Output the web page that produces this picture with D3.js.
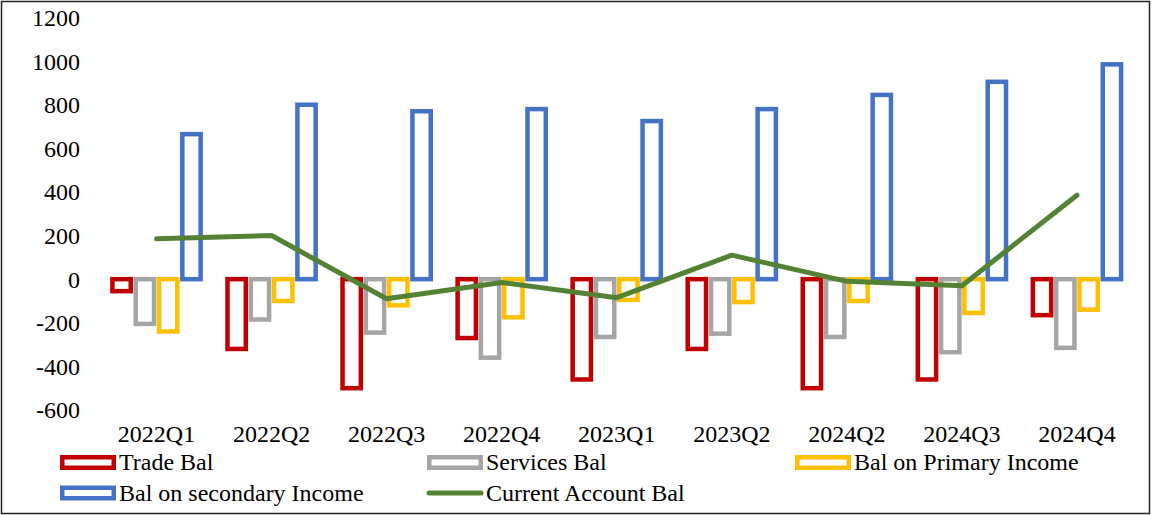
<!DOCTYPE html>
<html>
<head>
<meta charset="utf-8">
<script src="https://cdn.jsdelivr.net/npm/d3@7"></script>
<style>
  body { margin: 0; background: #fff; }
  text { font-family: "Liberation Serif", "Times New Roman", serif; fill: #000; }
</style>
</head>
<body>
<div id="chart"></div>
<script>
// data
const quarters = ["2022Q1", "2022Q2", "2022Q3", "2022Q4", "2023Q1", "2023Q2", "2024Q2", "2024Q3", "2024Q4"];
const tradeBal = [-55, -320, -500, -270, -460, -320, -500, -460, -165];
const servicesBal = [-205, -185, -245, -360, -265, -250, -265, -335, -315];
const primaryBal = [-240, -100, -120, -175, -95, -105, -100, -155, -140];
const secondaryBal = [665, 800, 770, 780, 725, 780, 845, 905, 985];
const currentBal = [185, 200, -90, -15, -85, 110, -10, -30, 385];
const yTicks = [-600, -400, -200, 0, 200, 400, 600, 800, 1000, 1200];

const barSeries = [
  { name: "Trade Bal", values: tradeBal, color: "#C00000" },
  { name: "Services Bal", values: servicesBal, color: "#A5A5A5" },
  { name: "Bal on Primary Income", values: primaryBal, color: "#FFC000" },
  { name: "Bal on secondary Income", values: secondaryBal, color: "#4472C4" }
];
const lineColor = "#548235";

// layout
let svgWidth = 1152;
let svgHeight = 515;
let plotLeft = 99;
let plotRight = 1134.5;
let groupHalf = 46.6;
let barStroke = 4.5;
let fontSize = 24;
let serif = "Liberation Serif, Times New Roman, serif";

let svg = d3.select("#chart")
  .append("svg")
  .attr("width", svgWidth)
  .attr("height", svgHeight);

// outer frame
svg.append("rect")
  .attr("x", 1.5).attr("y", 1.5)
  .attr("width", 1148).attr("height", 512)
  .attr("fill", "#fff")
  .attr("stroke", "#222")
  .attr("stroke-width", 1.5);

// scales
let xScale = d3.scaleBand()
  .domain(quarters)
  .range([plotLeft, plotRight])
  .padding(0);

let yScale = d3.scaleLinear()
  .domain([-600, 1200])
  .range([410, 17.5]);

let seriesScale = d3.scaleBand()
  .domain(barSeries.map(d => d.name))
  .range([-groupHalf, groupHalf])
  .padding(0);

let center = q => xScale(q) + xScale.bandwidth() / 2;

// y axis labels only, no line
let yAxis = d3.axisLeft(yScale)
  .tickValues(yTicks)
  .tickFormat(d => String(d))
  .tickSize(0)
  .tickPadding(0);
let yAxisGroup = svg.append("g")
  .attr("transform", "translate(80,0)")
  .call(yAxis)
  .attr("font-family", serif)
  .attr("font-size", fontSize);
yAxisGroup.select(".domain").remove();
yAxisGroup.selectAll("text")
  .attr("fill", "#000")
  .attr("dy", "0.33em");

// x axis labels
let xAxis = d3.axisBottom(xScale).tickSize(0).tickPadding(0);
let xAxisGroup = svg.append("g")
  .attr("transform", "translate(0,442)")
  .call(xAxis)
  .attr("font-family", serif)
  .attr("font-size", fontSize);
xAxisGroup.select(".domain").remove();
xAxisGroup.selectAll("text")
  .attr("fill", "#000")
  .attr("dy", 0);

// bars
let barW = seriesScale.bandwidth() - barStroke - 0.5;
barSeries.forEach(s => {
  svg.append("g")
    .selectAll("rect")
    .data(quarters.map((q, i) => ({ q: q, v: s.values[i] })))
    .join("rect")
    .attr("x", d => center(d.q) + seriesScale(s.name) + (seriesScale.bandwidth() - barW) / 2)
    .attr("width", barW)
    .attr("y", d => yScale(Math.max(0, d.v)))
    .attr("height", d => Math.abs(yScale(d.v) - yScale(0)))
    .attr("fill", "#fff")
    .attr("stroke", s.color)
    .attr("stroke-width", barStroke);
});

// current account line
let line = d3.line()
  .x((d, i) => center(quarters[i]))
  .y(d => yScale(d));

svg.append("path")
  .datum(currentBal)
  .attr("fill", "none")
  .attr("stroke", lineColor)
  .attr("stroke-width", 5)
  .attr("stroke-linejoin", "round")
  .attr("stroke-linecap", "round")
  .attr("d", line);

// legend
let legendItems = [
  { name: "Trade Bal", color: "#C00000", type: "bar", x: 60, y: 462.5 },
  { name: "Services Bal", color: "#A5A5A5", type: "bar", x: 427, y: 462.5 },
  { name: "Bal on Primary Income", color: "#FFC000", type: "bar", x: 795, y: 462.5 },
  { name: "Bal on secondary Income", color: "#4472C4", type: "bar", x: 60, y: 493 },
  { name: "Current Account Bal", color: lineColor, type: "line", x: 427, y: 493 }
];

let legend = svg.append("g");
legendItems.forEach(d => {
  if (d.type === "bar") {
    legend.append("rect")
      .attr("x", d.x + 2.25).attr("y", d.y - 5.25)
      .attr("width", 51.5).attr("height", 10.5)
      .attr("fill", "#fff")
      .attr("stroke", d.color)
      .attr("stroke-width", barStroke);
  } else {
    legend.append("line")
      .attr("x1", d.x + 2).attr("x2", d.x + 54)
      .attr("y1", d.y).attr("y2", d.y)
      .attr("stroke", d.color)
      .attr("stroke-width", 5)
      .attr("stroke-linecap", "round");
  }
  legend.append("text")
    .attr("x", d.x + 59)
    .attr("y", d.y + 7.5)
    .attr("font-size", fontSize)
    .text(d.name);
});
</script>
</body>
</html>
